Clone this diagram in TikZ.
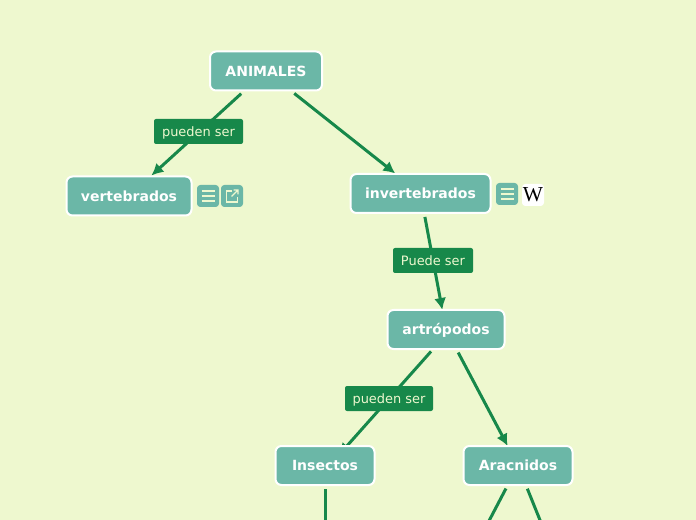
\documentclass[tikz,border=0pt]{standalone}
\usepackage{fontspec}
\setmainfont{DejaVu Sans}
\newfontfamily\wikifont{Liberation Serif}
\usetikzlibrary{arrows.meta,backgrounds}
\definecolor{pagebg}{HTML}{EEF8CF}
\definecolor{nodeteal}{HTML}{6BB7A7}
\definecolor{linkgreen}{HTML}{17884A}
\tikzset{
  flowarrow/.style={-{Latex[length=9pt,width=9pt]}, line width=2.25pt, linkgreen},
  plainlink/.style={line width=2.25pt, linkgreen},
  conceptnode/.style={draw=white, line width=1.5pt, rounded corners=4.5pt, fill=nodeteal, text=white, font=\bfseries\fontsize{10.5}{12}\selectfont, minimum height=29.25pt, text height=8.7pt, text depth=1pt, outer sep=0pt, inner sep=0pt},
  linklabel/.style={fill=linkgreen, text=pagebg, rounded corners=1.5pt, font=\fontsize{9.7}{12}\selectfont, minimum height=18.75pt, text height=8.5pt, text depth=1pt, outer sep=0pt, inner sep=0pt},
  iconbox/.style={fill=nodeteal, rounded corners=2.5pt, minimum width=16.5pt, minimum height=16.5pt, inner sep=0pt, outer sep=0pt},
  iconline/.style={draw=pagebg, line width=0.8pt},
  menuicon/.pic={
    \node[iconbox] (-box) {};
    \draw[iconline] (-6.5,-5) -- (6.5,-5) (-6.5,0) -- (6.5,0) (-6.5,5) -- (6.5,5);
  },
  linkicon/.pic={
    \node[iconbox] (-box) {};
    \draw[iconline] (0,-5) -- (-5.5,-5) -- (-5.5,6) -- (5.5,6) -- (5.5,1);
    \draw[iconline] (-0.5,0.5) -- (6,-6) (1.5,-6) -- (6,-6) -- (6,-1.5);
  }
}
\begin{document}
\begin{tikzpicture}[x=0.75pt, y=-0.75pt]
  \clip (0,0) rectangle (696,520);
  \node[conceptnode, minimum width=84pt] (animales) at (266,71) {ANIMALES};
  \node[conceptnode, minimum width=93.75pt] (vertebrados) at (129,196) {vertebrados};
  \node[conceptnode, minimum width=105pt] (invertebrados) at (420.5,193.5) {invertebrados};
  \node[conceptnode, minimum width=87.75pt] (artropodos) at (446,329.5) {artrópodos};
  \node[conceptnode, minimum width=74.25pt] (insectos) at (325,465.5) {Insectos};
  \node[conceptnode, minimum width=81.75pt] (aracnidos) at (518,465.5) {Aracnidos};
  \coordinate (insectosdown) at (325,540);
  \coordinate (aracnidosleft) at (479,540);
  \coordinate (aracnidosright) at (548,540);
  \begin{scope}[on background layer]
    \fill[pagebg] (0,0) rectangle (696,520);
    \draw[flowarrow, shorten <=3.5pt, shorten >=1pt] (animales) -- (vertebrados);
    \draw[flowarrow, shorten <=3.5pt, shorten >=0.5pt] (animales) -- (invertebrados);
    \draw[flowarrow, shorten <=3pt] (invertebrados) -- (artropodos);
    % this one ends behind the box
    \draw[flowarrow, shorten <=22pt, shorten >=10.5pt] ([xshift=3.4pt]artropodos.center) -- ([xshift=3.4pt]insectos.center);
    \draw[flowarrow, shorten <=3pt] (artropodos) -- (aracnidos);
    \draw[plainlink, shorten <=3pt] (insectos) -- (insectosdown);
    \draw[plainlink, shorten <=3pt] (aracnidos) -- (aracnidosleft);
    \draw[plainlink, shorten <=3pt] (aracnidos) -- (aracnidosright);
  \end{scope}
  \node[linklabel, minimum width=66.75pt] (label1) at (198.5,131.5) {pueden ser};
  \node[linklabel, minimum width=60pt] (label2) at (433,260.5) {Puede ser};
  \node[linklabel, minimum width=66pt] (label3) at (389,398.5) {pueden ser};
  \pic (menua) at (208,196) {menuicon};
  \pic (open) at (232,196) {linkicon};
  \pic (menub) at (507,194) {menuicon};
  \node[fill=white, rounded corners=2.5pt, minimum width=16.5pt, minimum height=16.5pt, inner sep=0pt, font=\wikifont\fontsize{16}{16}\selectfont] (wiki) at (533,195) {W};
\end{tikzpicture}
\end{document}
